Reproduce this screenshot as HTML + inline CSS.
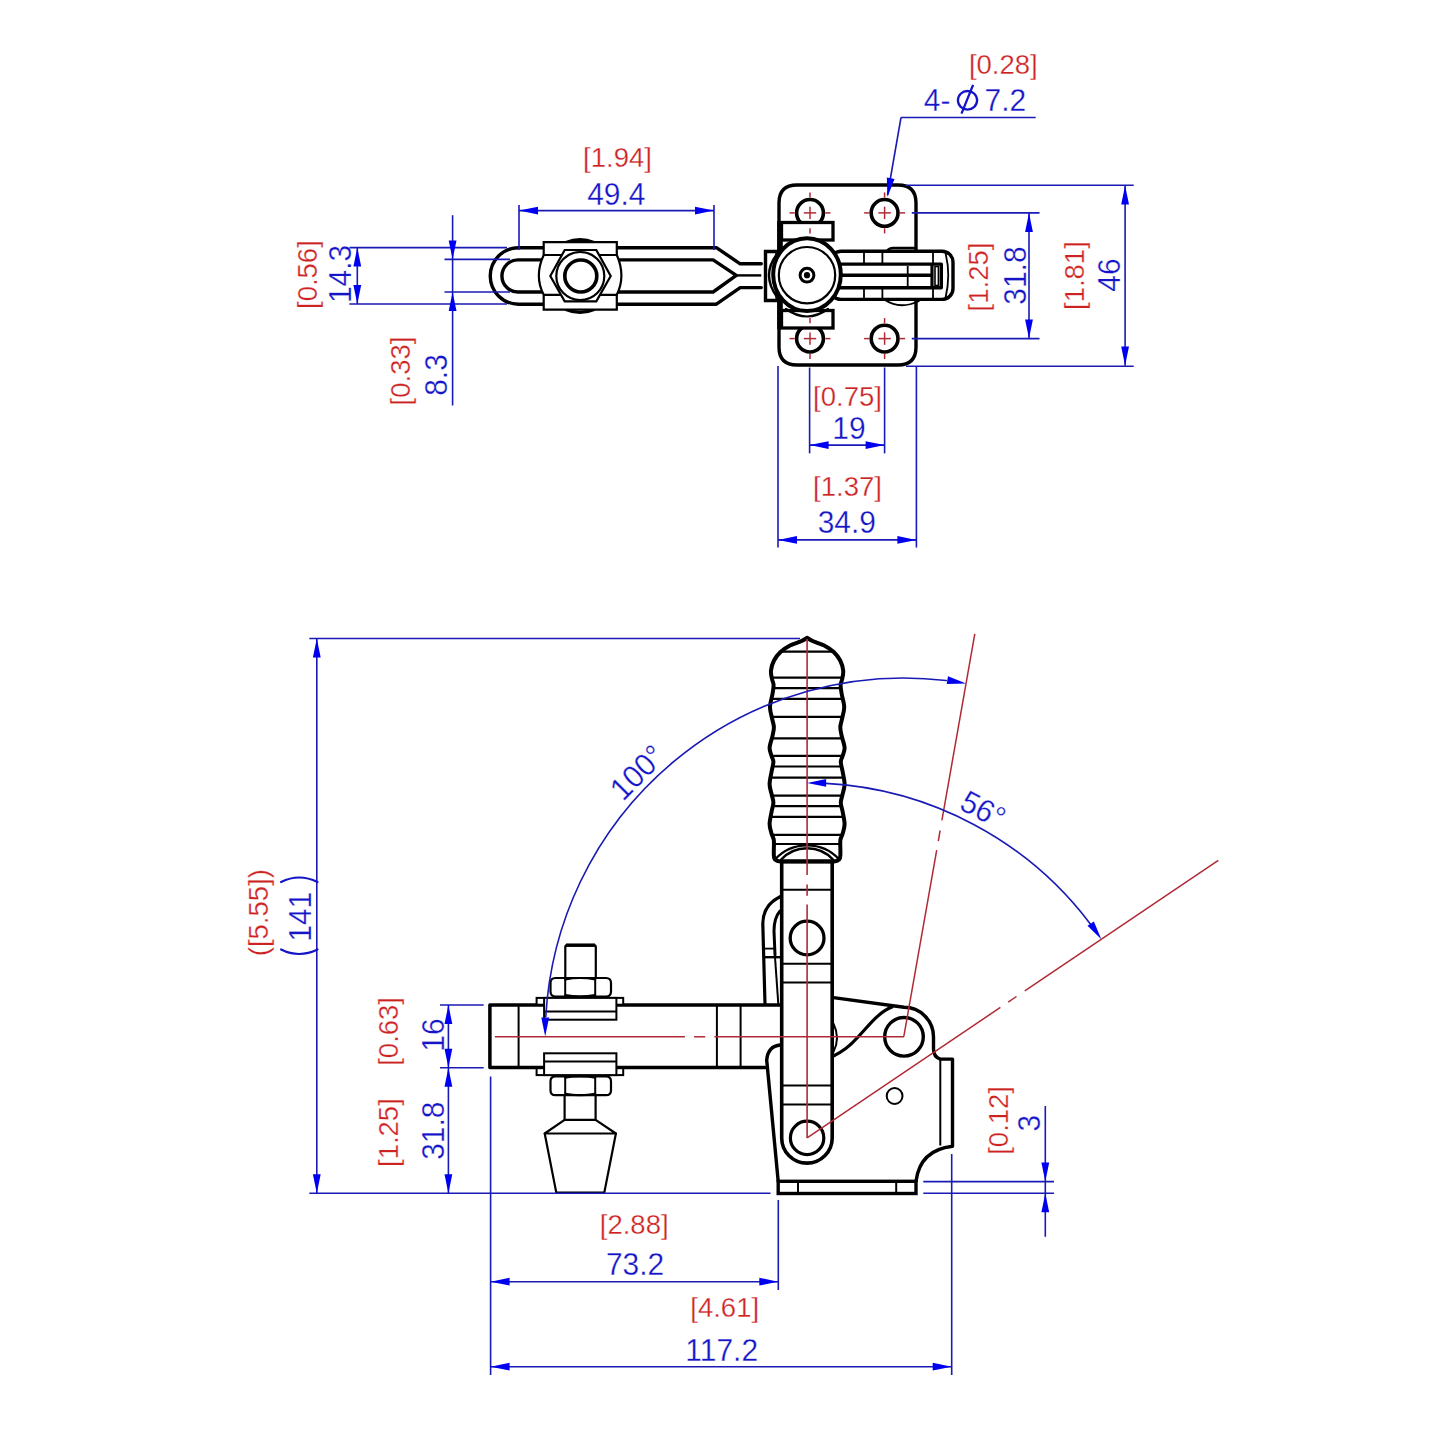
<!DOCTYPE html>
<html><head><meta charset="utf-8"><style>
html,body{margin:0;padding:0;background:#fff;}
svg{display:block;}
text{font-family:"Liberation Sans",sans-serif;}
</style></head><body>
<svg width="1445" height="1445" viewBox="0 0 1445 1445">
<rect width="1445" height="1445" fill="#fff"/>
<path d="M797,185 H898 Q916,185 916,203 V347 Q916,365 898,365 H797 Q779,365 779,347 V203 Q779,185 797,185 Z" stroke="#000" stroke-width="3.4" fill="none" stroke-linejoin="round" stroke-linecap="round" />
<circle cx="810.0" cy="212.9" r="13.4" stroke="#000" stroke-width="3.6" fill="#fff"/>
<circle cx="884.6" cy="212.9" r="13.4" stroke="#000" stroke-width="3.6" fill="#fff"/>
<circle cx="810.0" cy="338.6" r="13.4" stroke="#000" stroke-width="3.6" fill="#fff"/>
<circle cx="884.6" cy="338.6" r="13.4" stroke="#000" stroke-width="3.6" fill="#fff"/>
<line x1="780.0" y1="221.0" x2="780.0" y2="329.0" stroke="#000" stroke-width="5.6" />
<path d="M887,251 Q889,248 893,248 H916" stroke="#000" stroke-width="2.5" fill="none" stroke-linejoin="round" stroke-linecap="round" />
<path d="M885,300 Q900,310 919,301" stroke="#000" stroke-width="1.8" fill="none" stroke-linejoin="round" stroke-linecap="round" />
<rect x="830" y="251.2" width="123" height="48.2" rx="11" fill="#fff" stroke="#000" stroke-width="3.4"/>
<line x1="864.0" y1="253.0" x2="864.0" y2="264.0" stroke="#000" stroke-width="1.8" />
<line x1="864.0" y1="288.0" x2="864.0" y2="298.0" stroke="#000" stroke-width="1.8" />
<line x1="882.4" y1="253.0" x2="882.4" y2="264.0" stroke="#000" stroke-width="1.8" />
<line x1="882.4" y1="288.0" x2="882.4" y2="298.0" stroke="#000" stroke-width="1.8" />
<line x1="933.0" y1="253.0" x2="933.0" y2="264.0" stroke="#000" stroke-width="1.8" />
<line x1="933.0" y1="288.0" x2="933.0" y2="298.0" stroke="#000" stroke-width="1.8" />
<path d="M945.5,253 Q951,275 945.5,298" stroke="#000" stroke-width="1.8" fill="none" stroke-linejoin="round" stroke-linecap="round" />
<path d="M832,264.1 H941.3 V287.8 H832" stroke="#000" stroke-width="3.4" fill="none" stroke-linejoin="round" stroke-linecap="round" />
<line x1="832.0" y1="275.3" x2="932.0" y2="275.3" stroke="#000" stroke-width="3.4" />
<line x1="907.7" y1="266.0" x2="907.7" y2="286.0" stroke="#000" stroke-width="1.8" />
<rect x="935.0" y="266.5" width="3.4" height="19.0" rx="0" stroke="#000" stroke-width="1.6" fill="none"/>
<line x1="932.0" y1="264.0" x2="932.0" y2="288.0" stroke="#000" stroke-width="3.2" />
<rect x="781.5" y="222.5" width="51.5" height="17.5" rx="0" stroke="#000" stroke-width="3.3" fill="#fff"/>
<rect x="781.5" y="310.5" width="51.5" height="17.5" rx="0" stroke="#000" stroke-width="3.3" fill="#fff"/>
<path d="M786,309 Q807,324 828,309" stroke="#000" stroke-width="2.2" fill="none" stroke-linejoin="round" stroke-linecap="round" />
<path d="M716.4,247.7 H518.5 A28.25,28.25 0 0 0 518.5,304.2 H716.4 L740.2,287.6 H761.3 M716.4,247.7 L740.2,263.8 H761.3" stroke="#000" stroke-width="3.4" fill="none" stroke-linejoin="round" stroke-linecap="round" />
<path d="M713.1,259.9 H518 A16.05,16.05 0 0 0 518,292 H713.1 L736.3,275.4 Z" stroke="#000" stroke-width="3.4" fill="none" stroke-linejoin="round" stroke-linecap="round" />
<line x1="736.3" y1="275.4" x2="761.3" y2="275.4" stroke="#000" stroke-width="2.4" />
<path d="M566,242.5 Q580,236.5 594,242.5" stroke="#000" stroke-width="3.2" fill="none" stroke-linejoin="round" stroke-linecap="round" />
<path d="M566,309.5 Q580,315.5 594,309.5" stroke="#000" stroke-width="3.2" fill="none" stroke-linejoin="round" stroke-linecap="round" />
<path d="M543.7,242.2 H616.8 V255 Q626,276 616.8,294.8 V309.7 H543.7 V294.8 Q534,276 543.7,255 Z" fill="#fff" stroke="#000" stroke-width="2.2"/>
<line x1="543.7" y1="255.0" x2="616.8" y2="255.0" stroke="#000" stroke-width="2.2" />
<line x1="543.7" y1="294.8" x2="616.8" y2="294.8" stroke="#000" stroke-width="2.2" />
<polygon points="550.3,276 564.7,250 596.3,250 610.7,276 596.3,301.4 564.7,301.4" fill="#fff" stroke="#000" stroke-width="2.2"/>
<circle cx="580.3" cy="276.0" r="24.0" stroke="#000" stroke-width="2.2" fill="#fff"/>
<circle cx="580.8" cy="276.0" r="16.0" stroke="#000" stroke-width="3.6" fill="none"/>
<path d="M765.5,251.5 H777 V300.5 H765.5 Z" fill="none" stroke="#000" stroke-width="3.4"/>
<path d="M777,254 Q761,275 777,297" stroke="#000" stroke-width="2.4" fill="none" stroke-linejoin="round" stroke-linecap="round" />
<ellipse cx="807" cy="274.6" rx="33.8" ry="36.4" fill="#fff" stroke="#000" stroke-width="4"/>
<circle cx="807.0" cy="275.2" r="28.2" stroke="#000" stroke-width="2.2" fill="none"/>
<circle cx="807.0" cy="275.2" r="6.9" stroke="#000" stroke-width="3" fill="none"/>
<circle cx="807.0" cy="275.2" r="3.1" stroke="#000" stroke-width="0" fill="#000"/>
<line x1="789.5" y1="212.9" x2="794.7" y2="212.9" stroke="#b02a35" stroke-width="1.5" />
<line x1="810.0" y1="192.4" x2="810.0" y2="197.6" stroke="#b02a35" stroke-width="1.5" />
<line x1="803.8" y1="212.9" x2="816.2" y2="212.9" stroke="#b02a35" stroke-width="1.5" />
<line x1="810.0" y1="206.7" x2="810.0" y2="219.1" stroke="#b02a35" stroke-width="1.5" />
<line x1="825.3" y1="212.9" x2="830.5" y2="212.9" stroke="#b02a35" stroke-width="1.5" />
<line x1="810.0" y1="228.2" x2="810.0" y2="233.4" stroke="#b02a35" stroke-width="1.5" />
<line x1="864.1" y1="212.9" x2="869.3" y2="212.9" stroke="#b02a35" stroke-width="1.5" />
<line x1="884.6" y1="192.4" x2="884.6" y2="197.6" stroke="#b02a35" stroke-width="1.5" />
<line x1="878.4" y1="212.9" x2="890.8" y2="212.9" stroke="#b02a35" stroke-width="1.5" />
<line x1="884.6" y1="206.7" x2="884.6" y2="219.1" stroke="#b02a35" stroke-width="1.5" />
<line x1="899.9" y1="212.9" x2="905.1" y2="212.9" stroke="#b02a35" stroke-width="1.5" />
<line x1="884.6" y1="228.2" x2="884.6" y2="233.4" stroke="#b02a35" stroke-width="1.5" />
<line x1="789.5" y1="338.6" x2="794.7" y2="338.6" stroke="#b02a35" stroke-width="1.5" />
<line x1="810.0" y1="318.1" x2="810.0" y2="323.3" stroke="#b02a35" stroke-width="1.5" />
<line x1="803.8" y1="338.6" x2="816.2" y2="338.6" stroke="#b02a35" stroke-width="1.5" />
<line x1="810.0" y1="332.4" x2="810.0" y2="344.8" stroke="#b02a35" stroke-width="1.5" />
<line x1="825.3" y1="338.6" x2="830.5" y2="338.6" stroke="#b02a35" stroke-width="1.5" />
<line x1="810.0" y1="353.9" x2="810.0" y2="359.1" stroke="#b02a35" stroke-width="1.5" />
<line x1="864.1" y1="338.6" x2="869.3" y2="338.6" stroke="#b02a35" stroke-width="1.5" />
<line x1="884.6" y1="318.1" x2="884.6" y2="323.3" stroke="#b02a35" stroke-width="1.5" />
<line x1="878.4" y1="338.6" x2="890.8" y2="338.6" stroke="#b02a35" stroke-width="1.5" />
<line x1="884.6" y1="332.4" x2="884.6" y2="344.8" stroke="#b02a35" stroke-width="1.5" />
<line x1="899.9" y1="338.6" x2="905.1" y2="338.6" stroke="#b02a35" stroke-width="1.5" />
<line x1="884.6" y1="353.9" x2="884.6" y2="359.1" stroke="#b02a35" stroke-width="1.5" />
<line x1="1035.7" y1="117.5" x2="901.0" y2="117.5" stroke="#1a1ab4" stroke-width="1.6" />
<line x1="901.0" y1="117.5" x2="887.5" y2="195.0" stroke="#1a1ab4" stroke-width="1.6" />
<polygon points="887.5,197.0 886.8,177.6 894.5,178.9" fill="#0000f0"/>
<text font-size="27.5" fill="#cc2222" stroke="#fff" stroke-width="0.3" text-anchor="middle" transform="translate(1003.30 74.30)" >[0.28]</text>
<text font-size="31.5" fill="#1414c8" stroke="#fff" stroke-width="0.3" text-anchor="start" transform="translate(923.80 111.40) scale(0.95 1)" >4-</text>
<ellipse cx="967.5" cy="100.3" rx="9.6" ry="9.3" fill="none" stroke="#1414c8" stroke-width="2.3"/>
<line x1="961.5" y1="113.6" x2="973.1" y2="84.9" stroke="#1414c8" stroke-width="2.3" />
<text font-size="31.5" fill="#1414c8" stroke="#fff" stroke-width="0.3" text-anchor="end" transform="translate(1026.20 111.40) scale(0.95 1)" >7.2</text>
<line x1="519.0" y1="205.0" x2="519.0" y2="250.0" stroke="#1a1ab4" stroke-width="1.6" />
<line x1="714.0" y1="205.0" x2="714.0" y2="250.0" stroke="#1a1ab4" stroke-width="1.6" />
<line x1="519.0" y1="210.6" x2="714.0" y2="210.6" stroke="#1a1ab4" stroke-width="1.6" />
<polygon points="519.0,210.6 538.0,206.7 538.0,214.5" fill="#0000f0"/>
<polygon points="714.0,210.6 695.0,214.5 695.0,206.7" fill="#0000f0"/>
<text font-size="27.5" fill="#cc2222" stroke="#fff" stroke-width="0.3" text-anchor="middle" transform="translate(617.50 166.50)" >[1.94]</text>
<text font-size="31.5" fill="#1414c8" stroke="#fff" stroke-width="0.3" text-anchor="middle" transform="translate(616.30 204.75) scale(0.95 1)" >49.4</text>
<line x1="349.4" y1="247.6" x2="507.0" y2="247.6" stroke="#1a1ab4" stroke-width="1.6" />
<line x1="349.4" y1="304.0" x2="507.0" y2="304.0" stroke="#1a1ab4" stroke-width="1.6" />
<line x1="444.5" y1="259.4" x2="510.0" y2="259.4" stroke="#1a1ab4" stroke-width="1.6" />
<line x1="444.5" y1="292.0" x2="510.0" y2="292.0" stroke="#1a1ab4" stroke-width="1.6" />
<line x1="357.3" y1="247.6" x2="357.3" y2="304.0" stroke="#1a1ab4" stroke-width="1.6" />
<polygon points="357.3,247.6 361.2,266.6 353.4,266.6" fill="#0000f0"/>
<polygon points="357.3,304.0 353.4,285.0 361.2,285.0" fill="#0000f0"/>
<line x1="452.6" y1="215.2" x2="452.6" y2="405.5" stroke="#1a1ab4" stroke-width="1.6" />
<polygon points="452.6,259.4 448.7,240.4 456.5,240.4" fill="#0000f0"/>
<polygon points="452.6,292.0 456.5,311.0 448.7,311.0" fill="#0000f0"/>
<text font-size="31.5" fill="#1414c8" stroke="#fff" stroke-width="0.3" text-anchor="middle" transform="translate(350.90 274.00) rotate(-90) scale(0.95 1)" >14.3</text>
<text font-size="27.5" fill="#cc2222" stroke="#fff" stroke-width="0.3" text-anchor="middle" transform="translate(317.00 274.60) rotate(-90)" >[0.56]</text>
<text font-size="31.5" fill="#1414c8" stroke="#fff" stroke-width="0.3" text-anchor="middle" transform="translate(446.80 375.00) rotate(-90) scale(0.95 1)" >8.3</text>
<text font-size="27.5" fill="#cc2222" stroke="#fff" stroke-width="0.3" text-anchor="middle" transform="translate(409.50 371.00) rotate(-90)" >[0.33]</text>
<line x1="911.8" y1="212.9" x2="1039.5" y2="212.9" stroke="#1a1ab4" stroke-width="1.6" />
<line x1="911.8" y1="338.6" x2="1039.5" y2="338.6" stroke="#1a1ab4" stroke-width="1.6" />
<line x1="1029.0" y1="212.9" x2="1029.0" y2="338.6" stroke="#1a1ab4" stroke-width="1.6" />
<polygon points="1029.0,212.9 1032.9,231.9 1025.1,231.9" fill="#0000f0"/>
<polygon points="1029.0,338.6 1025.1,319.6 1032.9,319.6" fill="#0000f0"/>
<line x1="905.4" y1="185.2" x2="1133.7" y2="185.2" stroke="#1a1ab4" stroke-width="1.6" />
<line x1="906.0" y1="366.2" x2="1133.7" y2="366.2" stroke="#1a1ab4" stroke-width="1.6" />
<line x1="1125.1" y1="185.2" x2="1125.1" y2="365.8" stroke="#1a1ab4" stroke-width="1.6" />
<polygon points="1125.1,185.6 1129.0,204.6 1121.2,204.6" fill="#0000f0"/>
<polygon points="1125.1,365.4 1121.2,346.4 1129.0,346.4" fill="#0000f0"/>
<text font-size="31.5" fill="#1414c8" stroke="#fff" stroke-width="0.3" text-anchor="middle" transform="translate(1026.40 275.60) rotate(-90) scale(0.95 1)" >31.8</text>
<text font-size="27.5" fill="#cc2222" stroke="#fff" stroke-width="0.3" text-anchor="middle" transform="translate(988.00 277.00) rotate(-90)" >[1.25]</text>
<text font-size="31.5" fill="#1414c8" stroke="#fff" stroke-width="0.3" text-anchor="middle" transform="translate(1120.40 275.00) rotate(-90) scale(0.95 1)" >46</text>
<text font-size="27.5" fill="#cc2222" stroke="#fff" stroke-width="0.3" text-anchor="middle" transform="translate(1084.30 275.60) rotate(-90)" >[1.81]</text>
<line x1="809.6" y1="367.5" x2="809.6" y2="453.4" stroke="#1a1ab4" stroke-width="1.6" />
<line x1="884.6" y1="367.5" x2="884.6" y2="453.4" stroke="#1a1ab4" stroke-width="1.6" />
<line x1="809.6" y1="445.1" x2="884.6" y2="445.1" stroke="#1a1ab4" stroke-width="1.6" />
<polygon points="809.6,445.1 828.6,441.2 828.6,449.0" fill="#0000f0"/>
<polygon points="884.6,445.1 865.6,449.0 865.6,441.2" fill="#0000f0"/>
<text font-size="27.5" fill="#cc2222" stroke="#fff" stroke-width="0.3" text-anchor="middle" transform="translate(847.50 406.40)" >[0.75]</text>
<text font-size="31.5" fill="#1414c8" stroke="#fff" stroke-width="0.3" text-anchor="middle" transform="translate(848.90 438.90) scale(0.95 1)" >19</text>
<line x1="778.0" y1="366.0" x2="778.0" y2="547.5" stroke="#1a1ab4" stroke-width="1.6" />
<line x1="916.4" y1="366.0" x2="916.4" y2="547.5" stroke="#1a1ab4" stroke-width="1.6" />
<line x1="778.0" y1="539.9" x2="916.4" y2="539.9" stroke="#1a1ab4" stroke-width="1.6" />
<polygon points="778.0,539.9 797.0,536.0 797.0,543.8" fill="#0000f0"/>
<polygon points="916.4,539.9 897.4,543.8 897.4,536.0" fill="#0000f0"/>
<text font-size="27.5" fill="#cc2222" stroke="#fff" stroke-width="0.3" text-anchor="middle" transform="translate(847.50 496.30)" >[1.37]</text>
<text font-size="31.5" fill="#1414c8" stroke="#fff" stroke-width="0.3" text-anchor="middle" transform="translate(846.80 533.00) scale(0.95 1)" >34.9</text>
<rect x="778.2" y="1181.3" width="137.8" height="12.2" rx="0" stroke="#000" stroke-width="3.4" fill="none"/>
<line x1="798.0" y1="1181.3" x2="798.0" y2="1193.5" stroke="#000" stroke-width="2" />
<line x1="896.2" y1="1181.3" x2="896.2" y2="1193.5" stroke="#000" stroke-width="2" />
<path d="M780.4,1045 Q768,1046 766.7,1060 L778.2,1181.3" stroke="#000" stroke-width="3.4" fill="none" stroke-linejoin="round" stroke-linecap="round" />
<path d="M916,1181.3 Q920,1150 952.5,1146.3 V1059.1 H940.3 Q933.5,1057 933.5,1049 V1036.8 A29.5,29.5 0 0 0 904,1007.3 L833.5,997.6" stroke="#000" stroke-width="3.4" fill="none" stroke-linejoin="round" stroke-linecap="round" />
<line x1="940.3" y1="1060.0" x2="940.3" y2="1145.5" stroke="#000" stroke-width="2" />
<circle cx="894.6" cy="1096.0" r="7.9" stroke="#000" stroke-width="2" fill="none"/>
<circle cx="904.0" cy="1036.8" r="19.3" stroke="#000" stroke-width="3.4" fill="none"/>
<path d="M892,1007 C878,1012 867,1028 857,1038 C850,1046 842,1052 833,1056.2" stroke="#000" stroke-width="3.2" fill="none" stroke-linejoin="round" stroke-linecap="round" />
<path d="M833.5,1023.8 Q840.5,1037.8 833.5,1051.9" stroke="#000" stroke-width="2" fill="none" stroke-linejoin="round" stroke-linecap="round" />
<path d="M782,1005 H489.9 V1067.6 H765.3" stroke="#000" stroke-width="3.5" fill="none" stroke-linejoin="round" stroke-linecap="round" />
<line x1="518.6" y1="1005.0" x2="518.6" y2="1067.6" stroke="#000" stroke-width="2" />
<line x1="716.9" y1="1005.0" x2="716.9" y2="1067.6" stroke="#000" stroke-width="2" />
<line x1="740.6" y1="1005.0" x2="740.6" y2="1067.6" stroke="#000" stroke-width="2" />
<rect x="536.6" y="997.9" width="86.6" height="6.800000000000068" fill="#fff" stroke="#000" stroke-width="2"/>
<rect x="544.1" y="997.9" width="72.3" height="21.800000000000068" fill="#fff" stroke="#000" stroke-width="2"/>
<line x1="544.1" y1="1011.6" x2="616.4" y2="1011.6" stroke="#000" stroke-width="2" />
<rect x="536.6" y="1068.2" width="86.6" height="6.899999999999864" fill="#fff" stroke="#000" stroke-width="2"/>
<rect x="544.1" y="1053.3" width="72.3" height="21.799999999999955" fill="#fff" stroke="#000" stroke-width="2"/>
<line x1="544.1" y1="1061.4" x2="616.4" y2="1061.4" stroke="#000" stroke-width="2" />
<path d="M555.5,978 H606 Q611,978 611,983 V991.6 Q611,996.6 606,996.6 H555.5 Q550.5,996.6 550.5,991.6 V983 Q550.5,978 555.5,978 Z" fill="#fff" stroke="#000" stroke-width="2.2"/>
<line x1="565.2" y1="978.0" x2="565.2" y2="996.6" stroke="#000" stroke-width="2" />
<line x1="595.2" y1="978.0" x2="595.2" y2="996.6" stroke="#000" stroke-width="2" />
<path d="M565.2,979.5 Q580,976.5 595.2,979.5" stroke="#000" stroke-width="2" fill="none" stroke-linejoin="round" stroke-linecap="round" />
<path d="M565.2,995.1 Q580,998.1 595.2,995.1" stroke="#000" stroke-width="2" fill="none" stroke-linejoin="round" stroke-linecap="round" />
<path d="M555.5,1076.3 H606 Q611,1076.3 611,1081.3 V1090.2 Q611,1095.2 606,1095.2 H555.5 Q550.5,1095.2 550.5,1090.2 V1081.3 Q550.5,1076.3 555.5,1076.3 Z" fill="#fff" stroke="#000" stroke-width="2.2"/>
<line x1="565.2" y1="1076.3" x2="565.2" y2="1095.2" stroke="#000" stroke-width="2" />
<line x1="595.2" y1="1076.3" x2="595.2" y2="1095.2" stroke="#000" stroke-width="2" />
<path d="M565.2,1077.8 Q580,1074.8 595.2,1077.8" stroke="#000" stroke-width="2" fill="none" stroke-linejoin="round" stroke-linecap="round" />
<path d="M565.2,1093.7 Q580,1096.7 595.2,1093.7" stroke="#000" stroke-width="2" fill="none" stroke-linejoin="round" stroke-linecap="round" />
<path d="M565.3,978 V947 Q565.3,945 567.3,945 H593.8 Q595.8,945 595.8,947 V978" stroke="#000" stroke-width="2.2" fill="none" stroke-linejoin="round" stroke-linecap="round" />
<line x1="566.0" y1="945.2" x2="595.0" y2="945.2" stroke="#000" stroke-width="3.5" />
<path d="M564.6,1095.2 V1119.9 H595.6 V1095.2" stroke="#000" stroke-width="2.2" fill="none" stroke-linejoin="round" stroke-linecap="round" />
<path d="M564.6,1119.9 L544.7,1133.5 H615.9 L595.6,1119.9" stroke="#000" stroke-width="2.2" fill="none" stroke-linejoin="round" stroke-linecap="round" />
<path d="M544.7,1133.5 L556.3,1192.6 H604.3 L615.9,1133.5" stroke="#000" stroke-width="2.2" fill="none" stroke-linejoin="round" stroke-linecap="round" />
<path d="M780,896.7 Q763,905 762.8,923.7 L765,1004" stroke="#000" stroke-width="3.2" fill="none" stroke-linejoin="round" stroke-linecap="round" />
<path d="M780,911 Q774,918 774,931 L775,955" stroke="#000" stroke-width="3" fill="none" stroke-linejoin="round" stroke-linecap="round" />
<line x1="775.0" y1="957.0" x2="778.3" y2="1004.0" stroke="#000" stroke-width="2" />
<line x1="764.0" y1="948.6" x2="776.0" y2="948.6" stroke="#000" stroke-width="1.8" />
<line x1="764.0" y1="957.2" x2="781.0" y2="957.2" stroke="#000" stroke-width="2.4" />
<path d="M781.7,861.4 V1137.9 A25.25,25.25 0 0 0 832.2,1137.9 V861.4" fill="#fff" stroke="#000" stroke-width="3.6"/>
<line x1="783.0" y1="889.8" x2="831.0" y2="889.8" stroke="#000" stroke-width="2" />
<line x1="783.0" y1="963.8" x2="831.0" y2="963.8" stroke="#000" stroke-width="2" />
<line x1="783.0" y1="982.5" x2="831.0" y2="982.5" stroke="#000" stroke-width="2" />
<line x1="783.0" y1="1085.4" x2="831.0" y2="1085.4" stroke="#000" stroke-width="2" />
<line x1="783.0" y1="1104.4" x2="831.0" y2="1104.4" stroke="#000" stroke-width="2" />
<circle cx="807.1" cy="938.0" r="16.9" stroke="#000" stroke-width="3.3" fill="none"/>
<circle cx="807.1" cy="1137.9" r="16.7" stroke="#000" stroke-width="3.2" fill="none"/>
<clipPath id="gripclip"><path d="M807.10,637.80 C806.08,638.37 803.85,639.92 801.00,641.20 C798.15,642.48 793.42,643.70 790.00,645.50 C786.58,647.30 783.17,649.50 780.50,652.00 C777.83,654.50 775.58,657.42 774.00,660.50 C772.42,663.58 771.33,667.42 771.00,670.50 C770.67,673.58 771.57,676.58 772.00,679.00 C772.43,681.42 773.52,682.50 773.60,685.00 C773.68,687.50 773.10,690.33 772.50,694.00 C771.90,697.67 770.05,702.83 770.00,707.00 C769.95,711.17 771.55,715.63 772.20,719.00 C772.85,722.37 773.85,724.37 773.90,727.20 C773.95,730.03 773.22,732.60 772.50,736.00 C771.78,739.40 769.75,744.27 769.60,747.60 C769.45,750.93 770.97,753.60 771.60,756.00 C772.23,758.40 773.42,759.33 773.40,762.00 C773.38,764.67 772.13,768.27 771.50,772.00 C770.87,775.73 769.55,780.57 769.60,784.40 C769.65,788.23 771.17,791.93 771.80,795.00 C772.43,798.07 773.45,799.97 773.40,802.80 C773.35,805.63 772.13,808.45 771.50,812.00 C770.87,815.55 769.60,820.52 769.60,824.10 C769.60,827.68 770.80,830.85 771.50,833.50 C772.20,836.15 773.42,837.25 773.80,840.00 C774.18,842.75 773.80,848.33 773.80,850.00 L773.8,855 Q773.8,861.4 780,861.4 H834.2 Q840.4,861.4 840.4,855 L840.4,850 C840.40,848.33 840.02,842.75 840.40,840.00 C840.78,837.25 842.00,836.15 842.70,833.50 C843.40,830.85 844.60,827.68 844.60,824.10 C844.60,820.52 843.33,815.55 842.70,812.00 C842.07,808.45 840.85,805.63 840.80,802.80 C840.75,799.97 841.77,798.07 842.40,795.00 C843.03,791.93 844.55,788.23 844.60,784.40 C844.65,780.57 843.33,775.73 842.70,772.00 C842.07,768.27 840.82,764.67 840.80,762.00 C840.78,759.33 841.97,758.40 842.60,756.00 C843.23,753.60 844.75,750.93 844.60,747.60 C844.45,744.27 842.42,739.40 841.70,736.00 C840.98,732.60 840.25,730.03 840.30,727.20 C840.35,724.37 841.35,722.37 842.00,719.00 C842.65,715.63 844.25,711.17 844.20,707.00 C844.15,702.83 842.30,697.67 841.70,694.00 C841.10,690.33 840.52,687.50 840.60,685.00 C840.68,682.50 841.77,681.42 842.20,679.00 C842.63,676.58 843.53,673.58 843.20,670.50 C842.87,667.42 841.78,663.58 840.20,660.50 C838.62,657.42 836.37,654.50 833.70,652.00 C831.03,649.50 827.62,647.30 824.20,645.50 C820.78,643.70 816.05,642.48 813.20,641.20 C810.35,639.92 808.12,638.37 807.10,637.80 Z"/></clipPath>
<path d="M807.10,637.80 C806.08,638.37 803.85,639.92 801.00,641.20 C798.15,642.48 793.42,643.70 790.00,645.50 C786.58,647.30 783.17,649.50 780.50,652.00 C777.83,654.50 775.58,657.42 774.00,660.50 C772.42,663.58 771.33,667.42 771.00,670.50 C770.67,673.58 771.57,676.58 772.00,679.00 C772.43,681.42 773.52,682.50 773.60,685.00 C773.68,687.50 773.10,690.33 772.50,694.00 C771.90,697.67 770.05,702.83 770.00,707.00 C769.95,711.17 771.55,715.63 772.20,719.00 C772.85,722.37 773.85,724.37 773.90,727.20 C773.95,730.03 773.22,732.60 772.50,736.00 C771.78,739.40 769.75,744.27 769.60,747.60 C769.45,750.93 770.97,753.60 771.60,756.00 C772.23,758.40 773.42,759.33 773.40,762.00 C773.38,764.67 772.13,768.27 771.50,772.00 C770.87,775.73 769.55,780.57 769.60,784.40 C769.65,788.23 771.17,791.93 771.80,795.00 C772.43,798.07 773.45,799.97 773.40,802.80 C773.35,805.63 772.13,808.45 771.50,812.00 C770.87,815.55 769.60,820.52 769.60,824.10 C769.60,827.68 770.80,830.85 771.50,833.50 C772.20,836.15 773.42,837.25 773.80,840.00 C774.18,842.75 773.80,848.33 773.80,850.00 L773.8,855 Q773.8,861.4 780,861.4 H834.2 Q840.4,861.4 840.4,855 L840.4,850 C840.40,848.33 840.02,842.75 840.40,840.00 C840.78,837.25 842.00,836.15 842.70,833.50 C843.40,830.85 844.60,827.68 844.60,824.10 C844.60,820.52 843.33,815.55 842.70,812.00 C842.07,808.45 840.85,805.63 840.80,802.80 C840.75,799.97 841.77,798.07 842.40,795.00 C843.03,791.93 844.55,788.23 844.60,784.40 C844.65,780.57 843.33,775.73 842.70,772.00 C842.07,768.27 840.82,764.67 840.80,762.00 C840.78,759.33 841.97,758.40 842.60,756.00 C843.23,753.60 844.75,750.93 844.60,747.60 C844.45,744.27 842.42,739.40 841.70,736.00 C840.98,732.60 840.25,730.03 840.30,727.20 C840.35,724.37 841.35,722.37 842.00,719.00 C842.65,715.63 844.25,711.17 844.20,707.00 C844.15,702.83 842.30,697.67 841.70,694.00 C841.10,690.33 840.52,687.50 840.60,685.00 C840.68,682.50 841.77,681.42 842.20,679.00 C842.63,676.58 843.53,673.58 843.20,670.50 C842.87,667.42 841.78,663.58 840.20,660.50 C838.62,657.42 836.37,654.50 833.70,652.00 C831.03,649.50 827.62,647.30 824.20,645.50 C820.78,643.70 816.05,642.48 813.20,641.20 C810.35,639.92 808.12,638.37 807.10,637.80 Z" fill="#fff" stroke="none"/>
<g clip-path="url(#gripclip)">
<line x1="760.0" y1="651.6" x2="855.0" y2="651.6" stroke="#000" stroke-width="2.2" />
<line x1="760.0" y1="677.7" x2="855.0" y2="677.7" stroke="#000" stroke-width="2.2" />
<line x1="760.0" y1="688.1" x2="855.0" y2="688.1" stroke="#000" stroke-width="2.2" />
<line x1="760.0" y1="698.9" x2="855.0" y2="698.9" stroke="#000" stroke-width="2.2" />
<line x1="760.0" y1="716.8" x2="855.0" y2="716.8" stroke="#000" stroke-width="2.2" />
<line x1="760.0" y1="738.4" x2="855.0" y2="738.4" stroke="#000" stroke-width="2.2" />
<line x1="760.0" y1="755.8" x2="855.0" y2="755.8" stroke="#000" stroke-width="2.2" />
<line x1="760.0" y1="766.5" x2="855.0" y2="766.5" stroke="#000" stroke-width="2.2" />
<line x1="760.0" y1="777.6" x2="855.0" y2="777.6" stroke="#000" stroke-width="2.2" />
<line x1="760.0" y1="795.6" x2="855.0" y2="795.6" stroke="#000" stroke-width="2.2" />
<line x1="760.0" y1="806.2" x2="855.0" y2="806.2" stroke="#000" stroke-width="2.2" />
<line x1="760.0" y1="816.9" x2="855.0" y2="816.9" stroke="#000" stroke-width="2.2" />
<line x1="760.0" y1="834.8" x2="855.0" y2="834.8" stroke="#000" stroke-width="2.2" />
<line x1="760.0" y1="844.0" x2="855.0" y2="844.0" stroke="#000" stroke-width="2.2" />
</g>
<path d="M807.10,637.80 C806.08,638.37 803.85,639.92 801.00,641.20 C798.15,642.48 793.42,643.70 790.00,645.50 C786.58,647.30 783.17,649.50 780.50,652.00 C777.83,654.50 775.58,657.42 774.00,660.50 C772.42,663.58 771.33,667.42 771.00,670.50 C770.67,673.58 771.57,676.58 772.00,679.00 C772.43,681.42 773.52,682.50 773.60,685.00 C773.68,687.50 773.10,690.33 772.50,694.00 C771.90,697.67 770.05,702.83 770.00,707.00 C769.95,711.17 771.55,715.63 772.20,719.00 C772.85,722.37 773.85,724.37 773.90,727.20 C773.95,730.03 773.22,732.60 772.50,736.00 C771.78,739.40 769.75,744.27 769.60,747.60 C769.45,750.93 770.97,753.60 771.60,756.00 C772.23,758.40 773.42,759.33 773.40,762.00 C773.38,764.67 772.13,768.27 771.50,772.00 C770.87,775.73 769.55,780.57 769.60,784.40 C769.65,788.23 771.17,791.93 771.80,795.00 C772.43,798.07 773.45,799.97 773.40,802.80 C773.35,805.63 772.13,808.45 771.50,812.00 C770.87,815.55 769.60,820.52 769.60,824.10 C769.60,827.68 770.80,830.85 771.50,833.50 C772.20,836.15 773.42,837.25 773.80,840.00 C774.18,842.75 773.80,848.33 773.80,850.00 L773.8,855 Q773.8,861.4 780,861.4 H834.2 Q840.4,861.4 840.4,855 L840.4,850 C840.40,848.33 840.02,842.75 840.40,840.00 C840.78,837.25 842.00,836.15 842.70,833.50 C843.40,830.85 844.60,827.68 844.60,824.10 C844.60,820.52 843.33,815.55 842.70,812.00 C842.07,808.45 840.85,805.63 840.80,802.80 C840.75,799.97 841.77,798.07 842.40,795.00 C843.03,791.93 844.55,788.23 844.60,784.40 C844.65,780.57 843.33,775.73 842.70,772.00 C842.07,768.27 840.82,764.67 840.80,762.00 C840.78,759.33 841.97,758.40 842.60,756.00 C843.23,753.60 844.75,750.93 844.60,747.60 C844.45,744.27 842.42,739.40 841.70,736.00 C840.98,732.60 840.25,730.03 840.30,727.20 C840.35,724.37 841.35,722.37 842.00,719.00 C842.65,715.63 844.25,711.17 844.20,707.00 C844.15,702.83 842.30,697.67 841.70,694.00 C841.10,690.33 840.52,687.50 840.60,685.00 C840.68,682.50 841.77,681.42 842.20,679.00 C842.63,676.58 843.53,673.58 843.20,670.50 C842.87,667.42 841.78,663.58 840.20,660.50 C838.62,657.42 836.37,654.50 833.70,652.00 C831.03,649.50 827.62,647.30 824.20,645.50 C820.78,643.70 816.05,642.48 813.20,641.20 C810.35,639.92 808.12,638.37 807.10,637.80 Z" fill="none" stroke="#000" stroke-width="4" stroke-linejoin="round"/>
<path d="M774.9,859.5 A43.8,43.8 0 0 1 839.3,859.5" stroke="#000" stroke-width="2.4" fill="none" stroke-linejoin="round" stroke-linecap="round" />
<path d="M780.7,860 A35.6,35.6 0 0 1 833.5,860" stroke="#000" stroke-width="2.4" fill="none" stroke-linejoin="round" stroke-linecap="round" />
<line x1="780.0" y1="861.4" x2="834.0" y2="861.4" stroke="#000" stroke-width="3.6" />
<line x1="494.9" y1="1036.8" x2="684.9" y2="1036.8" stroke="#b02a35" stroke-width="1.5" />
<line x1="694.1" y1="1036.8" x2="705.2" y2="1036.8" stroke="#b02a35" stroke-width="1.5" />
<line x1="714.4" y1="1036.8" x2="904.0" y2="1036.8" stroke="#b02a35" stroke-width="1.5" />
<line x1="807.1" y1="639.0" x2="807.1" y2="874.9" stroke="#b02a35" stroke-width="1.6" />
<line x1="807.1" y1="884.5" x2="807.1" y2="895.7" stroke="#b02a35" stroke-width="1.6" />
<line x1="807.1" y1="904.4" x2="807.1" y2="1137.9" stroke="#b02a35" stroke-width="1.6" />
<line x1="309.3" y1="638.5" x2="800.0" y2="638.5" stroke="#1a1ab4" stroke-width="1.6" />
<line x1="309.3" y1="1193.2" x2="770.5" y2="1193.2" stroke="#1a1ab4" stroke-width="1.6" />
<line x1="316.8" y1="638.5" x2="316.8" y2="1193.2" stroke="#1a1ab4" stroke-width="1.6" />
<polygon points="316.8,638.5 320.7,657.5 312.9,657.5" fill="#0000f0"/>
<polygon points="316.8,1193.2 312.9,1174.2 320.7,1174.2" fill="#0000f0"/>
<text font-size="31.5" fill="#1414c8" stroke="#fff" stroke-width="0.3" text-anchor="middle" transform="translate(311.20 916.80) rotate(-90) scale(0.95 1)" >141</text>
<path d="M281.1,882 Q299,873 317.5,882" stroke="#1414c8" stroke-width="2.2" fill="none" stroke-linejoin="round" stroke-linecap="round" />
<path d="M281.1,949.5 Q299,958.5 317.5,949.5" stroke="#1414c8" stroke-width="2.2" fill="none" stroke-linejoin="round" stroke-linecap="round" />
<text font-size="27.5" fill="#cc2222" stroke="#fff" stroke-width="0.3" text-anchor="middle" transform="translate(267.50 912.70) rotate(-90)" >([5.55])</text>
<line x1="440.0" y1="1005.0" x2="483.7" y2="1005.0" stroke="#1a1ab4" stroke-width="1.6" />
<line x1="440.0" y1="1067.7" x2="483.7" y2="1067.7" stroke="#1a1ab4" stroke-width="1.6" />
<line x1="448.4" y1="1005.0" x2="448.4" y2="1193.2" stroke="#1a1ab4" stroke-width="1.6" />
<polygon points="448.4,1005.0 452.3,1024.0 444.5,1024.0" fill="#0000f0"/>
<polygon points="448.4,1067.7 444.5,1048.7 452.3,1048.7" fill="#0000f0"/>
<polygon points="448.4,1067.7 452.3,1086.7 444.5,1086.7" fill="#0000f0"/>
<polygon points="448.4,1193.2 444.5,1174.2 452.3,1174.2" fill="#0000f0"/>
<text font-size="31.5" fill="#1414c8" stroke="#fff" stroke-width="0.3" text-anchor="middle" transform="translate(444.10 1035.10) rotate(-90) scale(0.95 1)" >16</text>
<text font-size="27.5" fill="#cc2222" stroke="#fff" stroke-width="0.3" text-anchor="middle" transform="translate(397.50 1031.40) rotate(-90)" >[0.63]</text>
<text font-size="31.5" fill="#1414c8" stroke="#fff" stroke-width="0.3" text-anchor="middle" transform="translate(444.10 1130.70) rotate(-90) scale(0.95 1)" >31.8</text>
<text font-size="27.5" fill="#cc2222" stroke="#fff" stroke-width="0.3" text-anchor="middle" transform="translate(397.50 1132.60) rotate(-90)" >[1.25]</text>
<line x1="490.6" y1="1076.4" x2="490.6" y2="1375.0" stroke="#1a1ab4" stroke-width="1.6" />
<line x1="778.3" y1="1200.0" x2="778.3" y2="1290.0" stroke="#1a1ab4" stroke-width="1.6" />
<line x1="951.7" y1="1154.0" x2="951.7" y2="1375.0" stroke="#1a1ab4" stroke-width="1.6" />
<line x1="490.6" y1="1281.7" x2="778.3" y2="1281.7" stroke="#1a1ab4" stroke-width="1.6" />
<polygon points="490.6,1281.7 509.6,1277.8 509.6,1285.6" fill="#0000f0"/>
<polygon points="778.3,1281.7 759.3,1285.6 759.3,1277.8" fill="#0000f0"/>
<line x1="490.6" y1="1366.7" x2="951.7" y2="1366.7" stroke="#1a1ab4" stroke-width="1.6" />
<polygon points="490.6,1366.7 509.6,1362.8 509.6,1370.6" fill="#0000f0"/>
<polygon points="951.7,1366.7 932.7,1370.6 932.7,1362.8" fill="#0000f0"/>
<text font-size="27.5" fill="#cc2222" stroke="#fff" stroke-width="0.3" text-anchor="middle" transform="translate(634.20 1234.30)" >[2.88]</text>
<text font-size="31.5" fill="#1414c8" stroke="#fff" stroke-width="0.3" text-anchor="middle" transform="translate(635.00 1275.30) scale(0.95 1)" >73.2</text>
<text font-size="27.5" fill="#cc2222" stroke="#fff" stroke-width="0.3" text-anchor="middle" transform="translate(724.70 1317.00)" >[4.61]</text>
<text font-size="31.5" fill="#1414c8" stroke="#fff" stroke-width="0.3" text-anchor="middle" transform="translate(721.70 1361.00) scale(0.95 1)" >117.2</text>
<line x1="923.3" y1="1181.6" x2="1054.0" y2="1181.6" stroke="#1a1ab4" stroke-width="1.6" />
<line x1="923.3" y1="1193.2" x2="1054.0" y2="1193.2" stroke="#1a1ab4" stroke-width="1.6" />
<line x1="1045.3" y1="1106.0" x2="1045.3" y2="1236.8" stroke="#1a1ab4" stroke-width="1.6" />
<polygon points="1045.3,1181.6 1041.4,1162.6 1049.2,1162.6" fill="#0000f0"/>
<polygon points="1045.3,1193.2 1049.2,1212.2 1041.4,1212.2" fill="#0000f0"/>
<text font-size="31.5" fill="#1414c8" stroke="#fff" stroke-width="0.3" text-anchor="middle" transform="translate(1040.40 1123.10) rotate(-90) scale(0.95 1)" >3</text>
<text font-size="27.5" fill="#cc2222" stroke="#fff" stroke-width="0.3" text-anchor="middle" transform="translate(1007.70 1120.40) rotate(-90)" >[0.12]</text>
<line x1="903.8" y1="1036.6" x2="936.7" y2="850.1" stroke="#b02a35" stroke-width="1.5" />
<line x1="938.3" y1="841.1" x2="940.1" y2="830.5" stroke="#b02a35" stroke-width="1.5" />
<line x1="941.9" y1="820.4" x2="974.8" y2="633.8" stroke="#b02a35" stroke-width="1.5" />
<line x1="807.1" y1="1137.9" x2="1000.4" y2="1007.4" stroke="#b02a35" stroke-width="1.5" />
<line x1="1008.2" y1="1002.2" x2="1016.5" y2="996.5" stroke="#b02a35" stroke-width="1.5" />
<line x1="1024.8" y1="990.9" x2="1218.3" y2="860.3" stroke="#b02a35" stroke-width="1.5" />
<path d="M545.8,1016.6 A358.6,358.6 0 0 1 946.3,680.5" stroke="#1a1ab4" stroke-width="1.6" fill="none" stroke-linejoin="round" stroke-linecap="round" />
<polygon points="545.2,1036.6 541.3,1017.6 549.1,1017.6" fill="#0000f0"/>
<polygon points="966.1,683.4 946.7,684.0 948.0,676.3" fill="#0000f0"/>
<text font-size="31.5" fill="#1414c8" stroke="#fff" stroke-width="0.3" text-anchor="middle" transform="translate(645.00 780.00) rotate(-45) scale(0.95 1)" >100&#176;</text>
<path d="M825.7,783.4 A355,355 0 0 1 1090.5,924.2" stroke="#1a1ab4" stroke-width="1.6" fill="none" stroke-linejoin="round" stroke-linecap="round" />
<polygon points="807.1,782.9 826.1,779.0 826.1,786.8" fill="#0000f0"/>
<polygon points="1101.3,939.3 1087.5,925.7 1093.9,921.4" fill="#0000f0"/>
<text font-size="31.5" fill="#1414c8" stroke="#fff" stroke-width="0.3" text-anchor="middle" transform="translate(978.00 819.00) rotate(28) scale(0.95 1)" >56&#176;</text>
</svg>
</body></html>
